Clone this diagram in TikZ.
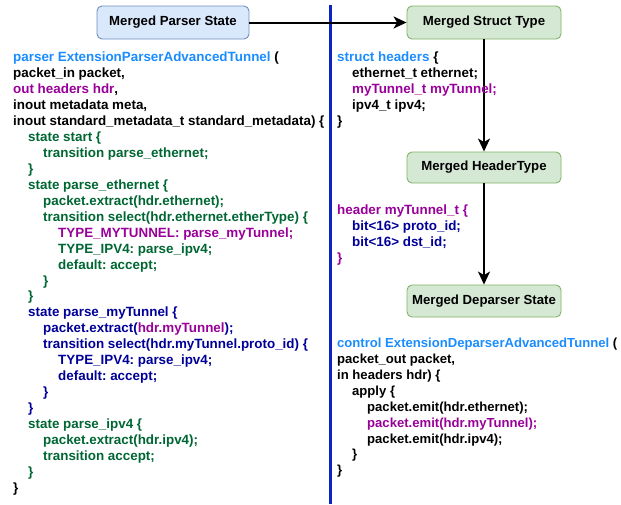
\documentclass[tikz,border=0pt]{standalone}
\usepackage{fontspec}
\setmainfont{Liberation Sans}
\usetikzlibrary{arrows.meta}
\frenchspacing

\definecolor{kwblue}{HTML}{1A8CFF}
\definecolor{tunpurple}{HTML}{990099}
\definecolor{stategreen}{HTML}{006633}
\definecolor{tunnavy}{HTML}{000099}
\definecolor{parserfill}{HTML}{DAE8FC}
\definecolor{parserline}{HTML}{6C8EBF}
\definecolor{mergefill}{HTML}{D5E8D4}
\definecolor{mergeline}{HTML}{82B366}
\definecolor{divider}{HTML}{0A24C8}

% one indentation level of the code listings
\newcommand{\tab}{\hspace*{15pt}}

\begin{document}
\begin{tikzpicture}[x=1pt,y=-1pt,
  stagebox/.style={rounded corners=5pt, line width=0.9pt, minimum width=154pt,
    minimum height=32pt, inner sep=0pt, font=\bfseries\fontsize{13.2}{15}\selectfont},
  parserbox/.style={stagebox, draw=parserline, fill=parserfill},
  mergebox/.style={stagebox, draw=mergeline, fill=mergefill},
  code/.style={anchor=base west, inner sep=0pt, align=left,
    font=\bfseries\fontsize{13.4}{15.93}\selectfont},
  flow/.style={-{Stealth[length=13pt,width=12pt,inset=3.5pt]}, line width=2pt}]

\useasboundingbox (0,0) rectangle (621,504);

% stage boxes
\node[parserbox, minimum width=152pt, minimum height=33pt] (parser) at (173,22.5) {Merged Parser State};
\node[mergebox, minimum height=33pt] (struct) at (484,22.5) {Merged Struct Type};
\node[mergebox, minimum height=31pt] (header) at (484,167.5) {Merged HeaderType};
\node[mergebox] (deparser) at (484,301) {Merged Deparser State};

% divider between parser and merged definitions
\coordinate (divtop) at (330,5);
\coordinate (divbot) at (330,504);
\draw[divider, line width=3pt] (divtop) -- (divbot);

% connectors between the stages
\draw[flow] (parser.east) -- (struct.west);
\draw[flow] (struct.south) -- (header.north);
\draw[flow] (header.south) -- (deparser.north);

% listings: each node is placed by the baseline of its last line
% parser listing
\node[code] (parsercode) at (13,492.1) {%
\textcolor{kwblue}{parser ExtensionParserAdvancedTunnel} (\\
packet\_in packet,\\
\textcolor{tunpurple}{out headers hdr},\\
inout metadata meta,\\
inout standard\_metadata\_t standard\_metadata) \{\\
\color{stategreen}\tab state start \{\\
\color{stategreen}\tab\tab transition parse\_ethernet;\\
\color{stategreen}\tab \}\\
\color{stategreen}\tab state parse\_ethernet \{\\
\color{stategreen}\tab\tab packet.extract(hdr.ethernet);\\
\color{stategreen}\tab\tab transition select(hdr.ethernet.etherType) \{\\
\color{tunpurple}\tab\tab\tab TYPE\_MYTUNNEL: parse\_myTunnel;\\
\color{stategreen}\tab\tab\tab TYPE\_IPV4: parse\_ipv4;\\
\color{stategreen}\tab\tab\tab default: accept;\\
\color{stategreen}\tab\tab \}\\
\color{stategreen}\tab \}\\
\color{tunnavy}\tab state parse\_myTunnel \{\\
\color{tunnavy}\tab\tab packet.extract(\textcolor{tunpurple}{hdr.myTunnel});\\
\color{tunnavy}\tab\tab transition select(hdr.myTunnel.proto\_id) \{\\
\color{tunnavy}\tab\tab\tab TYPE\_IPV4: parse\_ipv4;\\
\color{tunnavy}\tab\tab\tab default: accept;\\
\color{tunnavy}\tab\tab \}\\
\color{tunnavy}\tab \}\\
\color{stategreen}\tab state parse\_ipv4 \{\\
\color{stategreen}\tab\tab packet.extract(hdr.ipv4);\\
\color{stategreen}\tab\tab transition accept;\\
\color{stategreen}\tab \}\\
\}};

% merged struct listing
\node[code] (structcode) at (337,125.2) {%
\textcolor{kwblue}{struct headers} \{\\
\tab ethernet\_t ethernet;\\
\color{tunpurple}\tab myTunnel\_t myTunnel;\\
\tab ipv4\_t ipv4;\\
\}};

% merged header type listing
\node[code] (headercode) at (337,262.3) {%
\color{tunpurple}header myTunnel\_t \{\\
\color{tunnavy}\tab bit<16> proto\_id;\\
\color{tunnavy}\tab bit<16> dst\_id;\\
\color{tunpurple}\}};

% merged deparser listing
\node[code, font=\bfseries\fontsize{13.1}{15.93}\selectfont] (deparsercode) at (337,474.9) {%
\textcolor{kwblue}{control ExtensionDeparserAdvancedTunnel} (\\
packet\_out packet,\\
in headers hdr) \{\\
\tab apply \{\\
\tab\tab packet.emit(hdr.ethernet);\\
\color{tunpurple}\tab\tab packet.emit(hdr.myTunnel);\\
\tab\tab packet.emit(hdr.ipv4);\\
\tab \}\\
\}};
\end{tikzpicture}
\end{document}
